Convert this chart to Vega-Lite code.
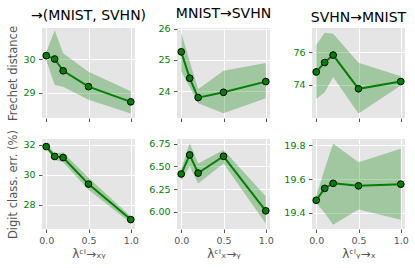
{
  "$schema": "https://vega.github.io/schema/vega-lite/v6.json",
  "padding": {"left": 7, "top": 6, "right": 0, "bottom": 0},
  "bounds": "flush",
  "columns": 3,
  "spacing": {"row": 21, "column": 42},
  "config": {
    "font": "DejaVu Sans",
    "view": {"fill": "#E5E5E5", "stroke": null},
    "axis": {"domain": false, "grid": true, "gridColor": "#FFFFFF", "gridWidth": 1, "tickColor": "#555555", "tickSize": 3.5, "tickWidth": 1, "labelPadding": 3.5, "labelFontSize": 9.5, "labelColor": "#555555", "labelOverlap": false, "titleFontSize": 11.5, "titleColor": "#555555", "titleFontWeight": "normal", "labelFont": "DejaVu Sans", "titleFont": "DejaVu Sans"},
    "axisX": {"labelPadding": 3, "titleFontSize": 12, "titlePadding": 3},
    "axisY": {"labelColor": "green", "titlePadding": 4},
    "title": {"fontSize": 14, "fontWeight": "normal", "color": "black", "offset": 3, "anchor": "middle", "font": "DejaVu Sans"}
  },
  "data": {"values": [
    {"p": "A", "lam": 0, "v": 30.10, "lo": 29.97, "hi": 30.20},
    {"p": "A", "lam": 0.1, "v": 30.00, "lo": 29.23, "hi": 30.85},
    {"p": "A", "lam": 0.2, "v": 29.65, "lo": 29.18, "hi": 30.17},
    {"p": "A", "lam": 0.5, "v": 29.18, "lo": 28.79, "hi": 29.62},
    {"p": "A", "lam": 1.0, "v": 28.73, "lo": 28.38, "hi": 29.04},
    {"p": "B", "lam": 0, "v": 25.26, "lo": 24.63, "hi": 25.87},
    {"p": "B", "lam": 0.1, "v": 24.42, "lo": 24.15, "hi": 24.95},
    {"p": "B", "lam": 0.2, "v": 23.80, "lo": 23.62, "hi": 24.07},
    {"p": "B", "lam": 0.5, "v": 23.97, "lo": 23.30, "hi": 24.66},
    {"p": "B", "lam": 1.0, "v": 24.31, "lo": 23.78, "hi": 24.90},
    {"p": "C", "lam": 0, "v": 74.79, "lo": 73.12, "hi": 76.45},
    {"p": "C", "lam": 0.1, "v": 75.37, "lo": 73.54, "hi": 77.20},
    {"p": "C", "lam": 0.2, "v": 75.83, "lo": 74.48, "hi": 77.14},
    {"p": "C", "lam": 0.5, "v": 73.75, "lo": 72.22, "hi": 75.35},
    {"p": "C", "lam": 1.0, "v": 74.20, "lo": 73.96, "hi": 74.52},
    {"p": "D", "lam": 0, "v": 31.89, "lo": 31.75, "hi": 32.10},
    {"p": "D", "lam": 0.1, "v": 31.23, "lo": 31.00, "hi": 31.45},
    {"p": "D", "lam": 0.2, "v": 31.16, "lo": 30.85, "hi": 31.50},
    {"p": "D", "lam": 0.5, "v": 29.38, "lo": 29.00, "hi": 29.80},
    {"p": "D", "lam": 1.0, "v": 27.00, "lo": 26.77, "hi": 27.20},
    {"p": "E", "lam": 0, "v": 6.415, "lo": 6.34, "hi": 6.47},
    {"p": "E", "lam": 0.1, "v": 6.625, "lo": 6.50, "hi": 6.757},
    {"p": "E", "lam": 0.2, "v": 6.425, "lo": 6.31, "hi": 6.53},
    {"p": "E", "lam": 0.5, "v": 6.61, "lo": 6.53, "hi": 6.68},
    {"p": "E", "lam": 1.0, "v": 6.01, "lo": 5.87, "hi": 6.17},
    {"p": "F", "lam": 0, "v": 19.475, "lo": 19.46, "hi": 19.50},
    {"p": "F", "lam": 0.1, "v": 19.545, "lo": 19.40, "hi": 19.66},
    {"p": "F", "lam": 0.2, "v": 19.575, "lo": 19.33, "hi": 19.81},
    {"p": "F", "lam": 0.5, "v": 19.56, "lo": 19.42, "hi": 19.70},
    {"p": "F", "lam": 1.0, "v": 19.57, "lo": 19.36, "hi": 19.78}
  ]},
  "concat": [
    {
      "title": "→(MNIST, SVHN)",
      "width": 93, "height": 90,
      "transform": [{"filter": "datum.p == 'A'"}],
      "encoding": {"x": {"field": "lam", "type": "quantitative", "scale": {"domain": [-0.05, 1.05], "nice": false, "zero": false}, "axis": {"values": [0, 0.5, 1], "labels": false}, "title": null}},
      "layer": [
        {"mark": {"type": "area", "color": "green", "opacity": 0.3}, "encoding": {"y": {"field": "lo", "type": "quantitative", "title": "Frechet distance", "scale": {"domain": [28.25, 30.92], "nice": false, "zero": false}, "axis": {"values": [29, 30], "format": "d", "labelOverlap": false}}, "y2": {"field": "hi"}}},
        {"mark": {"type": "line", "color": "green", "strokeWidth": 2}, "encoding": {"y": {"field": "v", "type": "quantitative", "title": "Frechet distance"}}},
        {"mark": {"type": "circle", "color": "green", "stroke": "black", "strokeWidth": 1, "size": 45, "opacity": 1}, "encoding": {"y": {"field": "v", "type": "quantitative", "title": "Frechet distance"}}}
      ]
    },
    {
      "title": "MNIST→SVHN",
      "width": 93, "height": 90,
      "transform": [{"filter": "datum.p == 'B'"}],
      "encoding": {"x": {"field": "lam", "type": "quantitative", "scale": {"domain": [-0.05, 1.05], "nice": false, "zero": false}, "axis": {"values": [0, 0.5, 1], "labels": false}, "title": null}},
      "layer": [
        {"mark": {"type": "area", "color": "green", "opacity": 0.3}, "encoding": {"y": {"field": "lo", "type": "quantitative", "title": null, "scale": {"domain": [23.15, 26.02], "nice": false, "zero": false}, "axis": {"values": [24, 25, 26], "format": "d", "labelOverlap": false}}, "y2": {"field": "hi"}}},
        {"mark": {"type": "line", "color": "green", "strokeWidth": 2}, "encoding": {"y": {"field": "v", "type": "quantitative", "title": null}}},
        {"mark": {"type": "circle", "color": "green", "stroke": "black", "strokeWidth": 1, "size": 45, "opacity": 1}, "encoding": {"y": {"field": "v", "type": "quantitative", "title": null}}}
      ]
    },
    {
      "title": "SVHN→MNIST",
      "width": 93, "height": 90,
      "transform": [{"filter": "datum.p == 'C'"}],
      "encoding": {"x": {"field": "lam", "type": "quantitative", "scale": {"domain": [-0.05, 1.05], "nice": false, "zero": false}, "axis": {"values": [0, 0.5, 1], "labels": false}, "title": null}},
      "layer": [
        {"mark": {"type": "area", "color": "green", "opacity": 0.3}, "encoding": {"y": {"field": "lo", "type": "quantitative", "title": null, "scale": {"domain": [71.95, 77.5], "nice": false, "zero": false}, "axis": {"values": [74, 76], "format": "d", "labelOverlap": false}}, "y2": {"field": "hi"}}},
        {"mark": {"type": "line", "color": "green", "strokeWidth": 2}, "encoding": {"y": {"field": "v", "type": "quantitative", "title": null}}},
        {"mark": {"type": "circle", "color": "green", "stroke": "black", "strokeWidth": 1, "size": 45, "opacity": 1}, "encoding": {"y": {"field": "v", "type": "quantitative", "title": null}}}
      ]
    },
    {
      "width": 93, "height": 90,
      "transform": [{"filter": "datum.p == 'D'"}],
      "encoding": {"x": {"field": "lam", "type": "quantitative", "scale": {"domain": [-0.05, 1.05], "nice": false, "zero": false}, "axis": {"values": [0, 0.5, 1], "format": ".1f", "labelOverlap": false}, "title": "λᶜᴵ→ₓᵧ"}},
      "layer": [
        {"mark": {"type": "area", "color": "green", "opacity": 0.3}, "encoding": {"y": {"field": "lo", "type": "quantitative", "title": "Digit class. err. (%)", "scale": {"domain": [26.37, 32.4], "nice": false, "zero": false}, "axis": {"values": [28, 30, 32], "format": "d", "labelOverlap": false}}, "y2": {"field": "hi"}}},
        {"mark": {"type": "line", "color": "green", "strokeWidth": 2}, "encoding": {"y": {"field": "v", "type": "quantitative", "title": "Digit class. err. (%)"}}},
        {"mark": {"type": "circle", "color": "green", "stroke": "black", "strokeWidth": 1, "size": 45, "opacity": 1}, "encoding": {"y": {"field": "v", "type": "quantitative", "title": "Digit class. err. (%)"}}}
      ]
    },
    {
      "width": 93, "height": 90,
      "transform": [{"filter": "datum.p == 'E'"}],
      "encoding": {"x": {"field": "lam", "type": "quantitative", "scale": {"domain": [-0.05, 1.05], "nice": false, "zero": false}, "axis": {"values": [0, 0.5, 1], "format": ".1f", "labelOverlap": false}, "title": "λᶜᴵₓ→ᵧ"}},
      "layer": [
        {"mark": {"type": "area", "color": "green", "opacity": 0.3}, "encoding": {"y": {"field": "lo", "type": "quantitative", "title": null, "scale": {"domain": [5.81, 6.80], "nice": false, "zero": false}, "axis": {"values": [6, 6.25, 6.5, 6.75], "format": ".2f", "labelOverlap": false, "tickCount": 4}}, "y2": {"field": "hi"}}},
        {"mark": {"type": "line", "color": "green", "strokeWidth": 2}, "encoding": {"y": {"field": "v", "type": "quantitative", "title": null}}},
        {"mark": {"type": "circle", "color": "green", "stroke": "black", "strokeWidth": 1, "size": 45, "opacity": 1}, "encoding": {"y": {"field": "v", "type": "quantitative", "title": null}}}
      ]
    },
    {
      "width": 93, "height": 90,
      "transform": [{"filter": "datum.p == 'F'"}],
      "encoding": {"x": {"field": "lam", "type": "quantitative", "scale": {"domain": [-0.05, 1.05], "nice": false, "zero": false}, "axis": {"values": [0, 0.5, 1], "format": ".1f", "labelOverlap": false}, "title": "λᶜᴵᵧ→ₓ"}},
      "layer": [
        {"mark": {"type": "area", "color": "green", "opacity": 0.3}, "encoding": {"y": {"field": "lo", "type": "quantitative", "title": null, "scale": {"domain": [19.305, 19.837], "nice": false, "zero": false}, "axis": {"values": [19.4, 19.6, 19.8], "format": ".1f", "labelOverlap": false}}, "y2": {"field": "hi"}}},
        {"mark": {"type": "line", "color": "green", "strokeWidth": 2}, "encoding": {"y": {"field": "v", "type": "quantitative", "title": null}}},
        {"mark": {"type": "circle", "color": "green", "stroke": "black", "strokeWidth": 1, "size": 45, "opacity": 1}, "encoding": {"y": {"field": "v", "type": "quantitative", "title": null}}}
      ]
    }
  ]
}
